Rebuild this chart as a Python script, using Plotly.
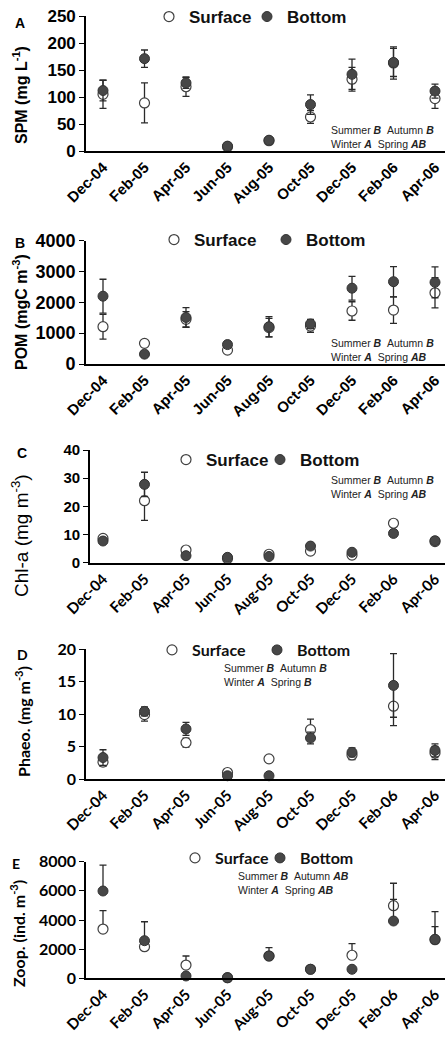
import plotly.graph_objects as go

W, H = 445, 1038

months = ["Dec-04", "Feb-05", "Apr-05", "Jun-05", "Aug-05", "Oct-05", "Dec-05", "Feb-06", "Apr-06"]

# Panel A: SPM (mg L-1)
spm_surface = [105, 89, 119, 8, 19, 63, 133, 163, 97]
spm_surface_err = [26, 37, 18, 0, 0, 12, 22, 30, 18]
spm_bottom = [112, 171, 126, 9, 20, 86, 142, 164, 111]
spm_bottom_err = [19, 16, 10, 0, 0, 18, 28, 26, 13]

# Panel B: POM (mgC m-3)
pom_surface = [1210, 670, 1450, 450, 1180, 1230, 1720, 1750, 2310]
pom_surface_err = [400, 0, 250, 100, 300, 200, 300, 430, 490]
pom_bottom = [2200, 320, 1510, 630, 1210, 1300, 2460, 2670, 2650]
pom_bottom_err = [550, 0, 320, 50, 330, 150, 385, 490, 500]

# Panel C: Chl-a (mg m-3)
chl_surface = [8.6, 22, 4.5, 1.5, 3.0, 4.1, 2.7, 14, 7.5]
chl_surface_err = [0.7, 7, 0.5, 0.3, 0.5, 1.0, 0.4, 1.0, 0.8]
chl_bottom = [7.7, 27.8, 2.5, 1.9, 2.2, 5.9, 3.7, 10.4, 7.8]
chl_bottom_err = [0.6, 4.3, 0.4, 0.3, 0.4, 0.6, 0.5, 1.0, 1.2]

# Panel D: Phaeo. (mg m-3)
phaeo_surface = [2.6, 9.9, 5.6, 1.0, 3.1, 7.6, 3.7, 11.2, 4.0]
phaeo_surface_err = [0.65, 1.0, 0.7, 0.1, 0.1, 1.6, 0.7, 3.0, 1.0]
phaeo_bottom = [3.3, 10.4, 7.7, 0.5, 0.5, 6.3, 4.1, 14.4, 4.4]
phaeo_bottom_err = [1.2, 0.7, 1.0, 0.1, 0.1, 0.9, 0.7, 4.9, 1.0]

# Panel E: Zoop. (ind. m-3) -- upper error only
zoop_surface = [3380, 2170, 910, 40, 1530, 620, 1580, 4980, 2650]
zoop_surface_err = [1260, 0, 620, 0, 0, 0, 795, 1540, 890]
zoop_bottom = [5990, 2580, 160, 40, 1530, 620, 620, 3930, 2675]
zoop_bottom_err = [1780, 1300, 0, 0, 570, 0, 0, 1490, 1895]

ARIAL = "Liberation Sans, Arial, sans-serif"
CAL = "Lato, Carlito, Calibri, sans-serif"


def py(px):
    return 1 - px / H


def pxx(px):
    return px / W


panels = [
    dict(letter="A", title="SPM (mg L<sup>-1</sup>)", s=spm_surface, se=spm_surface_err,
         b=spm_bottom, be=spm_bottom_err, minus=True, yr=[0, 250], dt=50,
         top=16, bot=151, left=86, tfont=ARIAL, xfont=ARIAL, yfont=ARIAL, ysize=17,
         titlefont=ARIAL, title_xy=(20, 95), title_size=16, title_w="bold", letter_xy=(20, 23),
         leg_x=(149, 247), leg_y=17, leg_font=ARIAL, leg_size=17,
         note="Summer <b><i>B</i></b>\u00a0\u00a0Autumn <b><i>B</i></b><br>Winter <b><i>A</i></b>\u00a0\u00a0Spring <b><i>AB</i></b>",
         note_xy=(329, 137)),
    dict(letter="B", title="POM (mgC m<sup>-3</sup>)", s=pom_surface, se=pom_surface_err,
         b=pom_bottom, be=pom_bottom_err, minus=True, yr=[0, 4000], dt=1000,
         top=240.7, bot=364, left=86, tfont=ARIAL, xfont=ARIAL, yfont=ARIAL, ysize=18,
         titlefont=ARIAL, title_xy=(20, 312), title_size=16, title_w="bold", letter_xy=(20, 243),
         leg_x=(154, 266), leg_y=240, leg_font=ARIAL, leg_size=17,
         note="Summer <b><i>B</i></b>\u00a0\u00a0Autumn <b><i>B</i></b><br>Winter <b><i>A</i></b>\u00a0\u00a0Spring <b><i>AB</i></b>",
         note_xy=(329, 350)),
    dict(letter="C", title="Chl-a (mg m<sup>-3</sup>)", s=chl_surface, se=chl_surface_err,
         b=chl_bottom, be=chl_bottom_err, minus=True, yr=[0, 40], dt=10,
         top=450, bot=562.7, left=90, tfont=ARIAL, xfont=CAL, yfont=ARIAL, ysize=15,
         titlefont=ARIAL, title_xy=(20, 536), title_size=19, title_w="normal", letter_xy=(22, 453),
         leg_x=(166, 260), leg_y=460, leg_font=ARIAL, leg_size=17,
         note="Summer <b><i>B</i></b>\u00a0\u00a0Autumn <b><i>B</i></b><br>Winter <b><i>A</i></b>\u00a0\u00a0Spring <b><i>AB</i></b>",
         note_xy=(329, 487)),
    dict(letter="D", title="Phaeo. (mg m<sup>-3</sup>)", s=phaeo_surface, se=phaeo_surface_err,
         b=phaeo_bottom, be=phaeo_bottom_err, minus=True, yr=[0, 20], dt=5,
         top=649, bot=779, left=86, tfont=CAL, xfont=CAL, yfont=CAL, ysize=16,
         titlefont=CAL, title_xy=(22, 722), title_size=16, title_w="bold", letter_xy=(22, 654),
         leg_x=(152, 257), leg_y=650, leg_font=CAL, leg_size=16,
         note="Summer <b><i>B</i></b>\u00a0\u00a0Autumn <b><i>B</i></b><br>Winter <b><i>A</i></b>\u00a0\u00a0Spring <b><i>B</i></b>",
         note_xy=(222, 675)),
    dict(letter="E", title="Zoop. (ind. m<sup>-3</sup>)", s=zoop_surface, se=zoop_surface_err,
         b=zoop_bottom, be=zoop_bottom_err, minus=False, yr=[0, 8000], dt=2000,
         top=861.7, bot=978.3, left=86, tfont=CAL, xfont=CAL, yfont=CAL, ysize=16,
         titlefont=CAL, title_xy=(17, 934), title_size=16, title_w="bold", letter_xy=(16, 863),
         leg_x=(175, 260), leg_y=858, leg_font=CAL, leg_size=16,
         note="Summer <b><i>B</i></b>\u00a0\u00a0Autumn <b><i>AB</i></b><br>Winter <b><i>A</i></b>\u00a0\u00a0Spring <b><i>AB</i></b>",
         note_xy=(236, 883)),
]

fig = go.Figure()
layout = dict(width=W, height=H, margin=dict(l=0, r=0, t=0, b=0, autoexpand=False),
              paper_bgcolor="white", plot_bgcolor="white", showlegend=True, annotations=[])

CAT_SPACING = 41.5
FIRST_CAT = 103

for i, p in enumerate(panels):
    n = "" if i == 0 else str(i + 1)
    xa, ya = "x" + n, "y" + n
    leg_s = "legend" if i == 0 else "legend" + str(2 * i + 1)
    leg_b = "legend" + str(2 * i + 2)
    common = dict(x=months, xaxis=xa, yaxis=ya, mode="markers", cliponaxis=False, showlegend=True)
    err_col = "#2a2a2a"
    fig.add_trace(go.Scatter(
        y=p["s"], name="Surface", legend=leg_s, **common,
        marker=dict(size=10, color="white", line=dict(color="#404040", width=1.2)),
        error_y=dict(type="data", symmetric=False, array=p["se"],
                     arrayminus=p["se"] if p["minus"] else [0] * len(p["se"]),
                     color=err_col, thickness=1.3, width=3.5)))
    fig.add_trace(go.Scatter(
        y=p["b"], name="Bottom", legend=leg_b, **common,
        marker=dict(size=10, color="#474747", line=dict(color="#333333", width=1)),
        error_y=dict(type="data", symmetric=False, array=p["be"],
                     arrayminus=p["be"] if p["minus"] else [0] * len(p["be"]),
                     color=err_col, thickness=1.3, width=3.5)))

    x0 = (p["left"] - FIRST_CAT) / CAT_SPACING
    x1 = (W - FIRST_CAT) / CAT_SPACING
    layout["xaxis" + n] = dict(
        domain=[pxx(p["left"]), 1], anchor=ya, type="category", range=[x0, x1],
        showline=True, linecolor="black", linewidth=1.6, ticks="", showgrid=False,
        zeroline=False, tickangle=-45, automargin=False,
        tickfont=dict(family=p["xfont"], size=15, color="black", weight="bold"))
    layout["yaxis" + n] = dict(
        domain=[py(p["bot"]), py(p["top"])], anchor=xa, range=p["yr"], dtick=p["dt"],
        showline=True, linecolor="black", linewidth=1.6, ticks="outside", ticklen=5,
        tickwidth=1.4, tickcolor="black", showgrid=False, zeroline=False, automargin=False,
        tickfont=dict(family=p["yfont"], size=p["ysize"], color="black", weight="bold"))
    for leg, lx in ((leg_s, p["leg_x"][0]), (leg_b, p["leg_x"][1])):
        layout[leg] = dict(
            visible=True,
            x=pxx(lx), y=py(p["leg_y"]), xanchor="left", yanchor="middle",
            orientation="h", bgcolor="rgba(0,0,0,0)", borderwidth=0,
            font=dict(family=p["leg_font"], size=p["leg_size"], color="#111111", weight="bold"),
            itemclick=False, itemdoubleclick=False)
    layout["annotations"] += [
        dict(text=p["title"], x=pxx(p["title_xy"][0]), y=py(p["title_xy"][1]),
             xref="paper", yref="paper", textangle=-90, showarrow=False,
             xanchor="center", yanchor="middle",
             font=dict(family=p["titlefont"], size=p["title_size"], color="black",
                       weight=p["title_w"])),
        dict(text=p["letter"], x=pxx(p["letter_xy"][0]), y=py(p["letter_xy"][1]),
             xref="paper", yref="paper", showarrow=False, xanchor="center", yanchor="middle",
             font=dict(family=p["tfont"], size=14, color="black", weight="bold")),
        dict(text=p["note"], x=pxx(p["note_xy"][0]), y=py(p["note_xy"][1]),
             xref="paper", yref="paper", showarrow=False, xanchor="left", yanchor="middle",
             align="left",
             font=dict(family=ARIAL, size=10.5, color="#222222")),
    ]

fig.update_layout(**layout)
fig.write_html("out.html")
